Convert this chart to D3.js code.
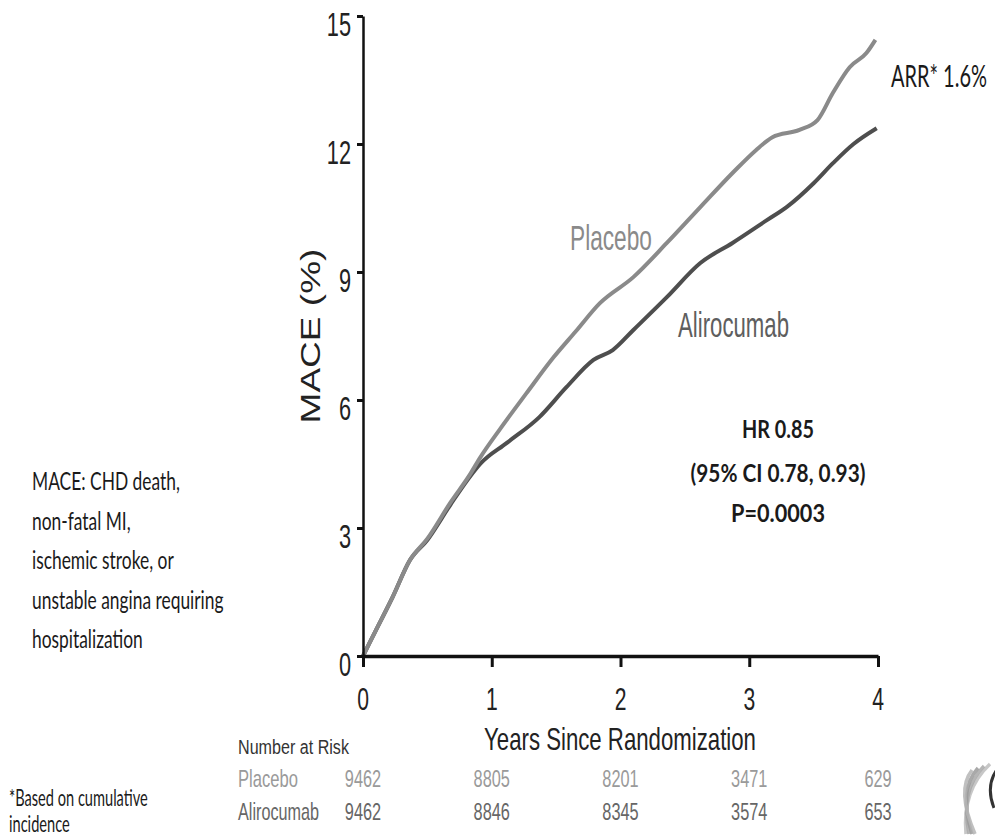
<!DOCTYPE html>
<html>
<head>
<meta charset="utf-8">
<script src="https://cdnjs.cloudflare.com/ajax/libs/d3/7.8.5/d3.min.js"></script>
<style>
  html, body { margin: 0; padding: 0; background: #fff; }
  svg { display: block; }
</style>
</head>
<body>
<svg id="chart" width="995" height="836"></svg>
<script>
// ---------------- DATA ----------------
const xTicks = [0, 1, 2, 3, 4];
const yTicks = [0, 3, 6, 9, 12, 15];

// [years since randomization, cumulative MACE %]
const placebo = [
  [0, 0], [0.1, 0.6], [0.23, 1.38], [0.365, 2.25], [0.5, 2.75], [0.68, 3.6],
  [0.83, 4.25], [0.91, 4.65], [1.06, 5.3], [1.27, 6.16], [1.48, 7.0], [1.65, 7.6],
  [1.84, 8.27], [2.10, 8.88], [2.36, 9.68], [2.62, 10.52], [2.87, 11.32],
  [3.05, 11.85], [3.18, 12.16], [3.39, 12.33], [3.53, 12.56], [3.65, 13.2],
  [3.78, 13.8], [3.91, 14.13], [3.98, 14.44]
];
const alirocumab = [
  [0, 0], [0.1, 0.6], [0.23, 1.38], [0.365, 2.25], [0.5, 2.72], [0.68, 3.55],
  [0.83, 4.2], [0.91, 4.5], [1.12, 5.0], [1.37, 5.6], [1.58, 6.3], [1.79, 6.94],
  [1.94, 7.17], [2.10, 7.64], [2.36, 8.41], [2.62, 9.21], [2.87, 9.68],
  [3.14, 10.22], [3.29, 10.52], [3.50, 11.08], [3.65, 11.55], [3.81, 12.0],
  [3.99, 12.37]
];

const riskPlacebo = [9462, 8805, 8201, 3471, 629];
const riskAlirocumab = [9462, 8846, 8345, 3574, 653];

const macNoteLines = [
  "MACE: CHD death,",
  "non-fatal MI,",
  "ischemic stroke, or",
  "unstable angina requiring",
  "hospitalization"
];
const statLines = ["HR 0.85", "(95% CI 0.78, 0.93)", "P=0.0003"];
const footLines = ["*Based on cumulative", "incidence"];

// ---------------- DRAW ----------------
const svg = d3.select("#chart");
const ARIAL = "'Liberation Sans', Arial, sans-serif";
const CALIBRI = "Lato, 'Open Sans', sans-serif";

const x = d3.scaleLinear().domain([0, 4]).range([363, 878]);
const y = d3.scaleLinear().domain([0, 15]).range([656, 16]);

// Text drawn narrow & tall (the reference is vertically stretched):
// a smaller font size gives the width, a vertical scale restores the height.
function label(str, px, py, o) {
  const t = svg.append("text")
    .attr("x", 0).attr("y", 0)
    .attr("font-family", o.family || ARIAL)
    .attr("font-size", o.size)
    .attr("font-weight", o.weight || "normal")
    .attr("fill", o.fill || "#222")
    .attr("text-anchor", o.anchor || "start")
    .text(str);
  const w = t.node().getComputedTextLength();
  const target = o.width != null ? o.width : w * (o.factor || 1);
  const fs2 = o.size * target / w;
  const sy = o.size / fs2;
  t.attr("font-size", fs2)
   .attr("transform", `translate(${px},${py})${o.rotate ? ` rotate(${o.rotate})` : ""} scale(1,${sy})`);
  return t;
}

// Curves
const line = d3.line().x(d => x(d[0])).y(d => y(d[1])).curve(d3.curveMonotoneX);
svg.append("path").datum(alirocumab)
  .attr("d", line).attr("fill", "none")
  .attr("stroke", "#4e4e4e").attr("stroke-width", 4).attr("stroke-linejoin", "round");
svg.append("path").datum(placebo)
  .attr("d", line).attr("fill", "none")
  .attr("stroke", "#8a8a8a").attr("stroke-width", 4).attr("stroke-linejoin", "round");

// Y axis
const yAxis = svg.append("g").attr("transform", `translate(${x(0)},0)`)
  .call(d3.axisLeft(y).tickValues(yTicks).tickSize(6).tickSizeOuter(0).tickFormat(""));
yAxis.select(".domain").attr("stroke", "#111").attr("stroke-width", 2.5);
yAxis.selectAll(".tick line").attr("stroke", "#111").attr("stroke-width", 3);
yTicks.forEach(v => {
  label(String(v), x(0) - 12, y(v) + 20, { size: 33, anchor: "end", factor: 0.66 });
});

// X axis
const xAxis = svg.append("g").attr("transform", `translate(0,${y(0)})`)
  .call(d3.axisBottom(x).tickValues(xTicks).tickSize(11).tickSizeOuter(0).tickFormat(""));
xAxis.select(".domain").attr("stroke", "#111").attr("stroke-width", 3.5);
xAxis.selectAll(".tick line").attr("stroke", "#111").attr("stroke-width", 3);
xTicks.forEach(v => {
  label(String(v), x(v), 710, { size: 32, anchor: "middle", factor: 0.66 });
});

// Axis titles
label("Years Since Randomization", 620, 750, { size: 32, anchor: "middle", width: 272 });
label("MACE (%)", 320, 336, { size: 28, anchor: "middle", width: 175, rotate: -90 });

// Series labels
label("Placebo", 570, 250, { size: 35, fill: "#8a8a8a", width: 82 });
label("Alirocumab", 678, 337, { size: 35, fill: "#5e5e5e", width: 111 });

// Stats
statLines.forEach((s, i) => {
  label(s, 778, [438, 482, 522][i], {
    size: 24, weight: "bold", family: CALIBRI, anchor: "middle", fill: "#1a1a1a",
    width: [72, 175, 94][i]
  });
});

// ARR
label("ARR* 1.6%", 891, 87, { size: 30, family: CALIBRI, fill: "#1a1a1a", width: 96 });

// MACE definition note
{
  const probe = svg.append("text").attr("font-family", CALIBRI).attr("font-size", 25).text(macNoteLines[0]);
  const f0 = 148 / probe.node().getComputedTextLength();
  probe.remove();
  macNoteLines.forEach((s, i) => {
    label(s, 32, 490 + i * 39.5, { size: 25, family: CALIBRI, fill: "#1a1a1a", factor: f0 });
  });
}

// Number at risk
label("Number at Risk", 238, 754, { size: 21, fill: "#333", width: 111 });
label("Placebo", 238, 787, { size: 24, fill: "#9a9a9a", width: 60 });
label("Alirocumab", 238, 820, { size: 24, fill: "#666", width: 81 });
riskPlacebo.forEach((v, i) => {
  label(String(v), x(xTicks[i]), 787, { size: 24, anchor: "middle", fill: "#9a9a9a", factor: 0.68 });
});
riskAlirocumab.forEach((v, i) => {
  label(String(v), x(xTicks[i]), 820, { size: 24, anchor: "middle", fill: "#666", factor: 0.68 });
});

// Footnote
{
  const probe = svg.append("text").attr("font-family", CALIBRI).attr("font-size", 24).text(footLines[0]);
  const ff = 145 / probe.node().getComputedTextLength();
  probe.remove();
  footLines.forEach((s, i) => {
    label(s, 9, [806, 832][i], { size: 23, family: CALIBRI, fill: "#1a1a1a", factor: ff });
  });
}

// Logo fragment (bottom-right decoration)
const logo = svg.append("g");
[0, 1, 2, 3].forEach(i => {
  logo.append("path")
    .attr("d", `M${990 - i * 6},${764 + i * 2} Q${962 - i * 2},${790} ${966 + i * 3},${834}`)
    .attr("fill", "none")
    .attr("stroke", ["#bdbdbd", "#a8a8a8", "#9a9a9a", "#b5b5b5"][i])
    .attr("stroke-width", 3.5)
    .attr("opacity", 0.85);
});
logo.append("path")
  .attr("d", "M998,768 Q985,785 994,808")
  .attr("fill", "none").attr("stroke", "#333").attr("stroke-width", 3);
</script>
</body>
</html>
